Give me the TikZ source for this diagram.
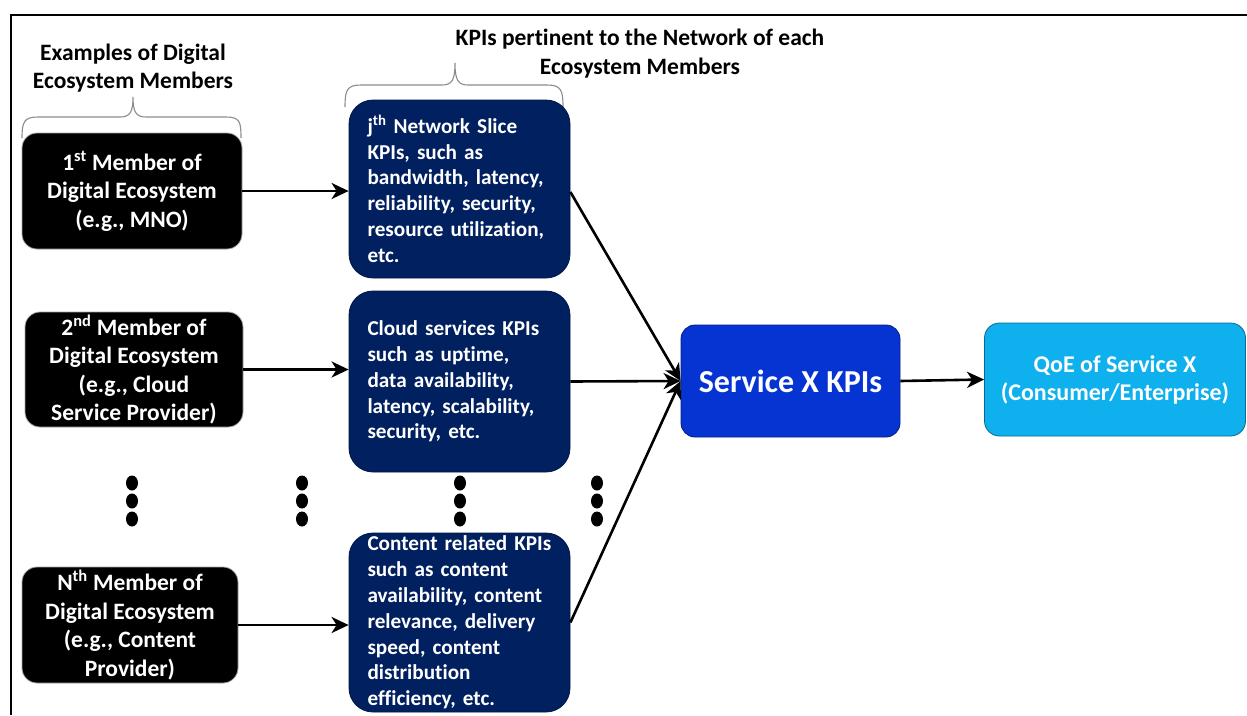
\documentclass[tikz,border=0pt]{standalone}
\usepackage{fontspec}
\setmainfont{Carlito}[Ligatures=NoCommon]
\usetikzlibrary{arrows.meta}
\definecolor{navybox}{HTML}{002060}
\definecolor{servblue}{HTML}{0634D2}
\definecolor{qoeblue}{HTML}{0FB0EE}
\definecolor{bracegray}{HTML}{8C8C8C}
\tikzset{
  member/.style={draw=gray!70, line width=0.8pt, fill=black, text=white, rounded corners=15pt,
    align=center, inner sep=0pt, font=\bfseries\fontsize{23.5}{28.5}\selectfont},
  kpibox/.style={draw=navybox!70!black, line width=0.8pt, fill=navybox, text=white, rounded corners=24pt,
    align=left, text width=184pt, inner sep=0pt, font=\bfseries\fontsize{21.2}{25.8}\selectfont},
  title/.style={align=center, inner sep=0pt, font=\bfseries\fontsize{23.5}{28.5}\selectfont},
  arr/.style={line width=2.6pt, -{Stealth[length=17pt,width=16pt,inset=5pt]}},
  bracestroke/.style={draw=bracegray, line width=1.1pt},
  dot/.style={fill=black}
}
\begin{document}
\begin{tikzpicture}[x=1pt,y=-1pt]
\useasboundingbox (0,0) rectangle (1247,715);
\fill[white] (0,0) rectangle (1247,715);
% frame
\draw[line width=2.2pt] (11,715) -- (11,15) -- (1247,15);

% titles
\node[title] (t1) at (133,68) {Examples of Digital\\Ecosystem Members};
\node[title] (t2) at (640,53.5) {KPIs pertinent to the Network of each\\Ecosystem Members};

% braces
\draw[bracestroke] (22,138) .. controls (22,122) and (24,117) .. (38,117) -- (120,117)
  .. controls (130,117) and (133,112) .. (133,97)
  .. controls (133,112) and (136,117) .. (146,117) -- (226,117)
  .. controls (240,117) and (241,122) .. (241,138);
\draw[bracestroke] (345,107) .. controls (345,90) and (347,85) .. (361,85) -- (442,85)
  .. controls (452,85) and (455,80) .. (455,63)
  .. controls (455,80) and (458,85) .. (468,85) -- (547,85)
  .. controls (561,85) and (563,90) .. (563,107);

% member boxes
\node[member, minimum width=220pt, minimum height=116pt] (m1) at (132,191)
  {1\textsuperscript{st} Member of\\Digital Ecosystem\\(e.g., MNO)};
\node[member, minimum width=218pt, minimum height=115pt] (m2) at (134,369.5)
  {2\textsuperscript{nd} Member of\\Digital Ecosystem\\(e.g., Cloud\\Service Provider)};
\node[member, minimum width=216pt, minimum height=116pt] (m3) at (130,625)
  {N\textsuperscript{th} Member of\\Digital Ecosystem\\(e.g., Content\\Provider)};

% KPI boxes
\node[kpibox, minimum width=221pt, minimum height=178pt] (b1) at (459.5,189)
  {j\textsuperscript{th} Network Slice\\KPIs, such as\\bandwidth, latency,\\reliability, security,\\resource utilization,\\etc.};
\node[kpibox, minimum width=221pt, minimum height=181pt] (b2) at (459.5,381.5)
  {Cloud services KPIs\\such as uptime,\\data availability,\\latency, scalability,\\security, etc.};
\node[kpibox, minimum width=221pt, minimum height=179pt] (b3) at (459.5,622.5)
  {Content related KPIs\\such as content\\availability, content\\relevance, delivery\\speed, content\\distribution\\efficiency, etc.};

% service and QoE
\node[draw=servblue!60!black, line width=0.8pt, fill=servblue, text=white, rounded corners=14pt,
  minimum width=219pt, minimum height=112pt, inner sep=0pt,
  font=\bfseries\fontsize{32}{36}\selectfont] (s) at (790.5,381) {Service X KPIs};
\node[draw=qoeblue!60!black, line width=0.8pt, fill=qoeblue, text=white, rounded corners=15pt,
  minimum width=261pt, minimum height=113pt, inner sep=0pt, align=center,
  font=\bfseries\fontsize{24}{28}\selectfont] (q) at (1115,379.5) {QoE of Service X\\(Consumer/Enterprise)};

% dots
\foreach \x in {132,302,460,597}{
  \foreach \y in {483,501,519}{
    \fill[dot] (\x,\y) ellipse [x radius=6pt, y radius=7.5pt];
  }
}

% arrows
\draw[arr] (m1.east) -- (m1.east -| b1.west);
\draw[arr] (m2.east) -- (m2.east -| b2.west);
\draw[arr] (m3.east) -- (m3.east -| b3.west);
\draw[arr] ([yshift=-3pt]b1.east) -- (s.west);
\draw[arr] (b2.east) -- (s.west);
\draw[arr] (b3.east) -- (s.west);
\draw[arr] (s.east) -- (q.west);
\end{tikzpicture}
\end{document}
